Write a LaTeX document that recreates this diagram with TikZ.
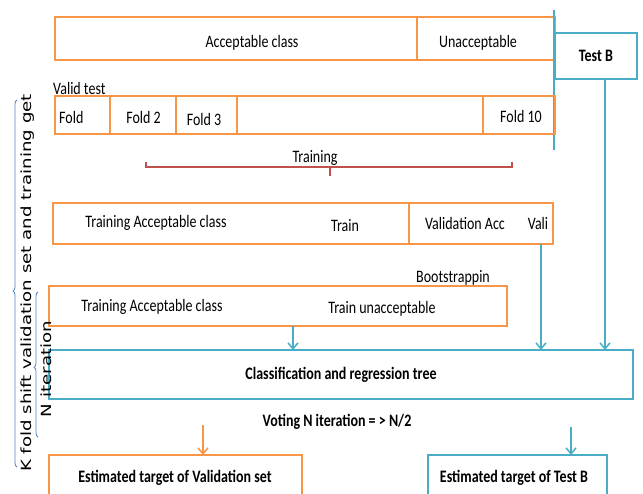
\documentclass[tikz,border=0pt]{standalone}
\usepackage{fontspec}
\usepackage{graphicx}
\setmainfont{Carlito}[FakeStretch=0.8]
\newfontfamily\sidefont{DejaVu Sans}
\newcommand{\widetext}[1]{\scalebox{1.3}[1]{#1}}
\usetikzlibrary{arrows.meta, decorations.pathreplacing}

\definecolor{foldorange}{HTML}{F79646}
\definecolor{treeblue}{HTML}{4BACC6}
\definecolor{trainred}{HTML}{C0504D}
\definecolor{bracelight}{HTML}{4F81BD}

\begin{document}
\begin{tikzpicture}[x=1pt, y=-1pt,
  obox/.style={rectangle, draw=foldorange, line width=2.2pt, inner sep=0pt, outer sep=0pt},
  bbox/.style={rectangle, draw=treeblue, line width=2.2pt, inner sep=0pt, outer sep=0pt},
  txt/.style={font=\fontsize{17.5}{19}\selectfont, inner sep=0pt},
  btxt/.style={font=\fontsize{17.5}{19}\selectfont\bfseries, inner sep=0pt},
  barr/.style={-{Straight Barb[length=6pt, width=10pt]}, treeblue, line width=1.5pt},
  oarr/.style={-{Straight Barb[length=6pt, width=10pt]}, foldorange, line width=1.5pt},
  splitline/.style={treeblue, line width=2pt},
  trainbar/.style={trainred, line width=2.2pt},
  sidebrace/.style={decorate, decoration={brace, amplitude=4pt, aspect=0.48}, bracelight, line width=0.8pt},
  side/.style={font=\sidefont\fontsize{14}{16}\selectfont, rotate=90, inner sep=0pt}]
\useasboundingbox (0,0) rectangle (643,493);
\clip (0,0) rectangle (643,493);
\node[obox, minimum width=362, minimum height=43] (acc) at (236,38.5) {};
\node[obox, minimum width=138, minimum height=43] (unacc) at (486,38.5) {};
\node[txt] (acctxt) at (252,43) {Acceptable class};
\node[txt] (unacctxt) at (478,43) {Unacceptable};
\coordinate (splittop) at (554,10);
\coordinate (splitbot) at (554,150);
\draw[splitline] (splittop) -- (splitbot);
\node[bbox, btxt, minimum width=82, minimum height=46] (testb) at (596,56) {Test B};
\node[txt, anchor=west] (validtest) at (53,88) {Valid test};
\node[obox, minimum width=55, minimum height=38] (fold1) at (82.5,115) {};
\node[obox, minimum width=66, minimum height=38] (fold2) at (143,115) {};
\node[obox, minimum width=61, minimum height=38] (fold3) at (206.5,115) {};
\node[obox, minimum width=246, minimum height=38] (foldgap) at (360,115) {};
\node[obox, minimum width=72, minimum height=38] (fold10) at (519,115) {};
\node[txt, anchor=west] (fold1txt) at (59,117) {Fold};
\node[txt] (fold2txt) at (143.5,117) {Fold 2};
\node[txt] (fold3txt) at (204,119) {Fold 3};
\node[txt] (fold10txt) at (521,116) {Fold 10};
\node[txt] (training) at (315,158) {Training};
\coordinate (trainl) at (146,162);
\coordinate (trainr) at (512,162);
\coordinate (trainm) at (330,176);
\draw[trainbar] (trainl) -- ++(0,5) -| (trainr);
\draw[trainbar] (trainm) -- ++(0,-9);
\node[obox, minimum width=356, minimum height=41] (trainrow) at (231,223.5) {};
\node[obox, minimum width=144, minimum height=41] (validrow) at (481,223.5) {};
\node[txt] (trainacc) at (156,223) {Training Acceptable class};
\node[txt] (train) at (345,226) {Train};
\node[txt] (validacc) at (465,223) {Validation Acc};
\node[txt] (vali) at (538,223) {Vali};
\node[obox, minimum width=458, minimum height=40] (bootrow) at (278,306) {};
\node[txt] (bootstrap) at (453,278) {Bootstrappin};
\node[txt] (bootacc) at (152,307) {Training Acceptable class};
\node[txt] (bootunacc) at (382,309) {Train unacceptable};
\node[bbox, btxt, minimum width=584, minimum height=49] (cart) at (341,374.5) {Classification and regression tree};
\coordinate (bootout) at (293,326);
\coordinate (valiout) at (541,244);
\coordinate (testbout) at (605,79);
\draw[barr] (bootout) -- (bootout |- cart.north);
\draw[barr] (valiout) -- (valiout |- cart.north);
\draw[barr] (testbout) -- (testbout |- cart.north);
\node[btxt] (voting) at (337,422) {Voting N iteration = > N/2};
\node[obox, minimum width=253, minimum height=55] (valest) at (175.5,482.5) {};
\node[btxt] (valesttxt) at (175,478) {Estimated target of Validation set};
\node[bbox, minimum width=179, minimum height=55] (testest) at (517.5,482.5) {};
\node[btxt] (testesttxt) at (514,478) {Estimated target of Test B};
\coordinate (voteleft) at (203,425);
\coordinate (voteright) at (571,427);
\draw[oarr] (voteleft) -- (voteleft |- valest.north);
\draw[barr] (voteright) -- (voteright |- testest.north);
\coordinate (kbot) at (17,467);
\coordinate (ktop) at (17,100);
\draw[sidebrace] (kbot) -- (ktop);
\coordinate (nbot) at (38,437);
\coordinate (ntop) at (38,292);
\draw[sidebrace] (nbot) -- (ntop);
\node[side] (kfold) at (28,283) {\widetext{K fold shift validation set and training get}};
\node[side] (niter) at (46,369) {\widetext{N iteration}};
\end{tikzpicture}
\end{document}
